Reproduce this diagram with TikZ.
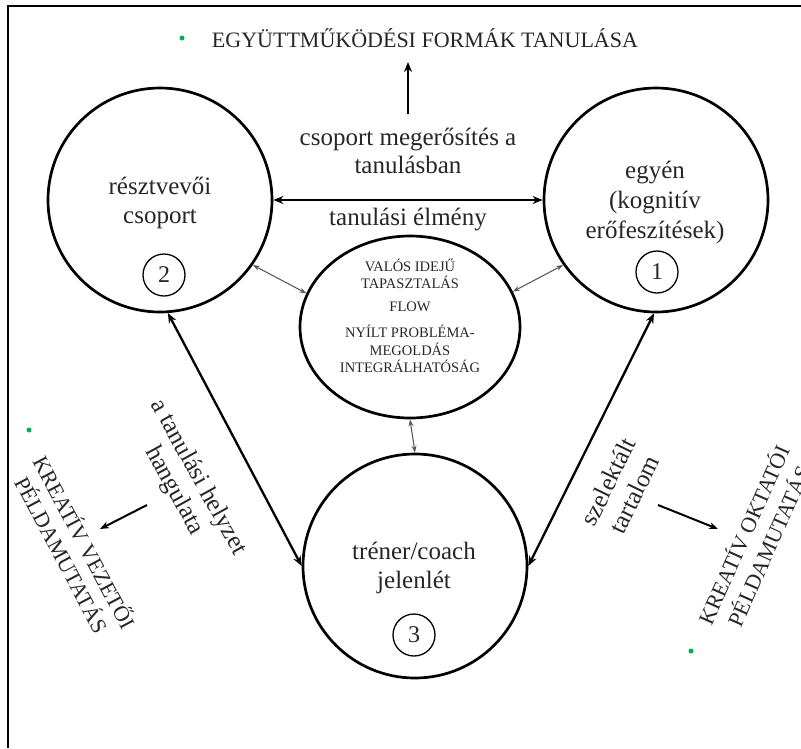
\documentclass[tikz,border=0pt]{standalone}
\usepackage{fontspec}
\setmainfont{Liberation Serif}
\usetikzlibrary{arrows.meta,shapes.geometric}
\definecolor{txtc}{RGB}{38,38,38}
\definecolor{dotg}{RGB}{0,176,80}
\definecolor{thinc}{RGB}{90,90,90}
\begin{document}
\begin{tikzpicture}[x=1pt,y=-1pt,
  bigc/.style={circle,draw=black,line width=2.7pt,minimum size=224pt,inner sep=0pt},
  midell/.style={ellipse,draw=black,line width=2.7pt,minimum width=220pt,minimum height=182pt,inner sep=0pt},
  numc/.style={circle,draw=black,line width=1.3pt,minimum size=42pt,inner sep=0pt,text=txtc,font=\fontsize{24}{24}\selectfont},
  lbl/.style={align=center,text=txtc,inner sep=0pt,font=\fontsize{25}{29}\selectfont},
  capslbl/.style={align=center,text=txtc,inner sep=0pt,font=\fontsize{22}{26}\selectfont},
  smallcaps/.style={align=center,text=txtc,inner sep=0pt,font=\fontsize{14.5}{17.5}\selectfont},
  gdot/.style={circle,fill=dotg,inner sep=0pt,minimum size=5pt},
  bigarr/.style={line width=2.3pt,{Stealth[length=10pt,width=8pt]}-{Stealth[length=10pt,width=8pt]}},
  onearr/.style={line width=2.3pt,-{Stealth[length=10pt,width=8pt]}},
  thinarr/.style={draw=thinc,line width=1.1pt,{Stealth[length=7pt,width=5pt]}-{Stealth[length=7pt,width=5pt]}}
]
\useasboundingbox (0,0) rectangle (801,748);
% frame
\coordinate (fbl) at (8,748);
\coordinate (ftl) at (8,6);
\coordinate (ftr) at (801,6);
\draw[line width=2pt] (fbl) -- (ftl) -- (ftr);

% title
\node[gdot] (d1) at (182,38) {};
\node[capslbl] (title) at (425,38) {EGYÜTTMŰKÖDÉSI FORMÁK TANULÁSA};
\coordinate (upbot) at (408,114);
\coordinate (uptop) at (408,62);
\draw[onearr] (upbot) -- (uptop);

% main circles
\node[bigc] (grp) at (160,200) {};
\node[bigc] (ind) at (656,200) {};
\node[bigc] (coach) at (415,566) {};
\node[midell] (mid) at (410,327) {};

% circle labels
\node[lbl] (grpt) at (160,203) {résztvevői\\csoport};
\node[lbl,font=\fontsize{25}{30}\selectfont] (indt) at (655,202) {egyén\\(kognitív\\erőfeszítések)};
\node[lbl] (coacht) at (414,568) {tréner/coach\\jelenlét};
\node[numc] (n2) at (164,275) {2};
\node[numc] (n1) at (657,272) {1};
\node[numc] (n3) at (414,635) {3};

% middle ellipse text
\node[smallcaps] (m1) at (410,274) {VALÓS IDEJŰ\\TAPASZTALÁS};
\node[smallcaps] (m2) at (410,307) {FLOW};
\node[smallcaps] (m3) at (410,349) {NYÍLT PROBLÉMA-\\MEGOLDÁS\\INTEGRÁLHATÓSÁG};

% top middle labels
\node[lbl,font=\fontsize{25}{28}\selectfont] (cm) at (408,151) {csoport megerősítés a\\tanulásban};
\node[lbl] (te) at (408,219) {tanulási élmény};

% connectors
\draw[bigarr] (grp.east) -- (ind.west);
\draw[bigarr] (grp.-86) -- (coach.west);
\draw[bigarr] (ind.-91) -- (coach.east);
\draw[thinarr] (grp.-35) -- (mid.162);
\draw[thinarr] (mid.19) -- (ind.-145);
\draw[thinarr] (mid.south) -- (coach.north);

% left side
\node[lbl,rotate=-61,font=\fontsize{25}{27.5}\selectfont] (lt) at (186,484) {a tanulási helyzet\\hangulata};
\node[capslbl,rotate=-62,font=\fontsize{22}{26}\selectfont] (lk) at (74,548) {KREATÍV VEZETŐI\\PÉLDAMUTATÁS};
\node[gdot] (d2) at (29,430) {};
\coordinate (la1) at (147,505);
\coordinate (la2) at (100,529);
\draw[line width=2pt,-{Stealth[length=9pt,width=7pt]}] (la1) -- (la2);

% right side
\node[lbl,rotate=64,font=\fontsize{25}{29}\selectfont] (rt) at (621,488) {szelektált\\tartalom};
\node[capslbl,rotate=66,font=\fontsize{22}{27.5}\selectfont] (rk) at (755,540) {KREATÍV OKTATÓI\\PÉLDAMUTATÁS};
\node[gdot] (d3) at (691,651) {};
\coordinate (ra1) at (658,505);
\coordinate (ra2) at (718,529);
\draw[line width=2pt,-{Stealth[length=9pt,width=7pt]}] (ra1) -- (ra2);
\end{tikzpicture}
\end{document}
